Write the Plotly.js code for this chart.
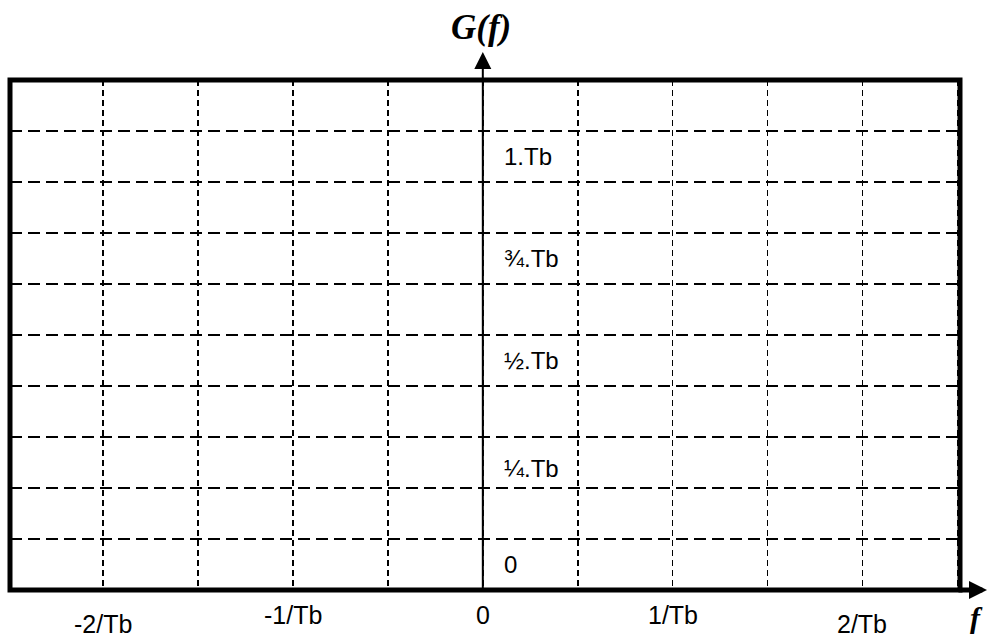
<!DOCTYPE html>
<html>
<head>
<meta charset="utf-8">
<script src="https://cdn.plot.ly/plotly-3.0.1.min.js"></script>
<style>
  html, body { margin: 0; padding: 0; background: #fff; }
  #chart { width: 988px; height: 637px; }
</style>
</head>
<body>
<div id="chart"></div>
<script>
// ---- data ----
const xLabelVals = [-2, -1, 0, 1, 2];              // frequency in units of 1/Tb
const xLabelText = ['-2/Tb', '-1/Tb', '0', '1/Tb', '2/Tb'];
const yLabelVals = [0, 0.25, 0.5, 0.75, 1];        // G(f) in units of Tb
const yLabelText = ['0', '¼.Tb', '½.Tb', '¾.Tb', '1.Tb'];
const xGridStep = 0.5;
const yGridStep = 0.125;
const xRange = [-2.491, 2.514];
const yRange = [-0.0625, 1.1875];
const yAxisTitle = 'G(f)';
const xAxisTitle = 'f';

const sans = 'Liberation Sans, Arial, sans-serif';
const serif = 'Liberation Serif, Times New Roman, serif';

const annotations = [];

// x labels (outer ones are staggered lower)
xLabelVals.forEach((v, i) => {
  annotations.push({
    xref: 'x', x: v, yref: 'paper', y: 0,
    yanchor: 'middle', xanchor: 'center',
    yshift: Math.abs(v) === 2 ? -34 : -25,
    text: xLabelText[i], showarrow: false,
    font: { family: sans, size: 25, color: '#000' }
  });
});

// y labels, sitting inside the cells just right of the vertical axis
yLabelVals.forEach((v, i) => {
  annotations.push({
    xref: 'x', x: 0, yref: 'y', y: v,
    xanchor: 'left', yanchor: 'middle', xshift: 19,
    yshift: v === 0.25 ? -6 : 0,
    text: yLabelText[i], showarrow: false,
    font: { family: sans, size: 24, color: '#000' }
  });
});

// vertical axis with arrow
annotations.push({
  xref: 'x', x: 0, yref: 'paper', y: 1.0549,
  axref: 'pixel', ayref: 'pixel', ax: 0, ay: 538,
  text: '', showarrow: true, arrowhead: 2, arrowsize: 1.7,
  arrowwidth: 2, arrowcolor: '#000', standoff: 0, startstandoff: 0
});
// horizontal axis arrow extension
annotations.push({
  xref: 'paper', x: 1.0284, yref: 'paper', y: 0,
  axref: 'pixel', ayref: 'pixel', ax: -30, ay: 0,
  text: '', showarrow: true, arrowhead: 2, arrowsize: 0.72,
  arrowwidth: 5, arrowcolor: '#000', standoff: 0, startstandoff: 0
});

// axis titles
annotations.push({
  xref: 'x', x: 0, xshift: -2, yref: 'paper', y: 1.102,
  xanchor: 'center', yanchor: 'middle',
  text: '<b><i>' + yAxisTitle + '</i></b>', showarrow: false,
  font: { family: serif, size: 35, color: '#000' }
});
annotations.push({
  xref: 'paper', x: 1.0178, yref: 'paper', y: 0, yshift: -27,
  xanchor: 'center', yanchor: 'middle',
  text: '<b><i>' + xAxisTitle + '</i></b>', showarrow: false,
  font: { family: serif, size: 30, color: '#000' }
});

const layout = {
  width: 988, height: 637,
  margin: { l: 10, r: 28, t: 80, b: 47, pad: 0 },
  paper_bgcolor: '#fff', plot_bgcolor: '#fff',
  showlegend: false,
  xaxis: {
    range: xRange, fixedrange: true,
    tick0: 0, dtick: xGridStep,
    showgrid: true, gridcolor: '#000', gridwidth: 1.6, griddash: '6px,4px',
    zeroline: false, showline: false, showticklabels: false, ticks: ''
  },
  yaxis: {
    range: yRange, fixedrange: true,
    tick0: yRange[0], dtick: yGridStep,
    showgrid: true, gridcolor: '#000', gridwidth: 1.6, griddash: '12px,6px',
    zeroline: false, showline: false, showticklabels: false, ticks: ''
  },
  shapes: [{
    type: 'rect', xref: 'paper', yref: 'paper',
    x0: 0, x1: 1, y0: 0, y1: 1,
    line: { color: '#000', width: 5 }, layer: 'above'
  }],
  annotations: annotations
};

Plotly.newPlot('chart', [], layout, { displayModeBar: false, staticPlot: true });
</script>
</body>
</html>
